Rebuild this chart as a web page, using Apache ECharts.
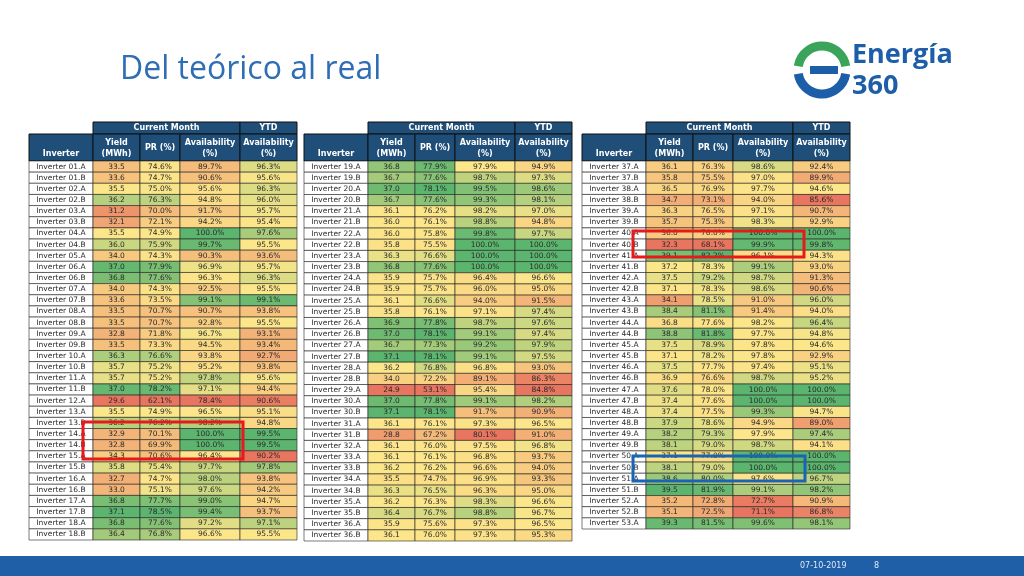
<!DOCTYPE html>
<html><head><meta charset="utf-8">
<script src="https://cdn.jsdelivr.net/npm/echarts@6/dist/echarts.min.js"></script>
<style>html,body{margin:0;padding:0;background:#fff}#c{width:1024px;height:576px}</style>
</head><body><div id="c"></div>
<script>
// table 1: Inverter 01.A .. 18.B
const names1 = ['01.A','01.B','02.A','02.B','03.A','03.B','04.A','04.B','05.A','06.A','06.B','07.A','07.B','08.A','08.B','09.A','09.B','10.A','10.B','11.A','11.B','12.A','13.A','13.B','14.A','14.B','15.A','15.B','16.A','16.B','17.A','17.B','18.A','18.B'];
const yield1 = [33.5,33.6,35.5,36.2,31.2,32.1,35.5,36.0,34.0,37.0,36.8,34.0,33.6,33.5,33.5,32.8,33.5,36.3,35.7,35.7,37.0,29.6,35.5,36.2,32.9,32.8,34.3,35.8,32.7,33.0,36.8,37.1,36.8,36.4];
const pr1 = [74.6,74.7,75.0,76.3,70.0,72.1,74.9,75.9,74.3,77.9,77.6,74.3,73.5,70.7,70.7,71.8,73.3,76.6,75.2,75.2,78.2,62.1,74.9,76.2,70.1,69.9,70.6,75.4,74.7,75.1,77.7,78.5,77.6,76.8];
const avail1 = [89.7,90.6,95.6,94.8,91.7,94.2,100.0,99.7,90.3,96.9,96.3,92.5,99.1,90.7,92.8,96.7,94.5,93.8,95.2,97.8,97.1,78.4,96.5,98.2,100.0,100.0,96.4,97.7,98.0,97.6,99.0,99.4,97.2,96.6];
const ytd1 = [96.3,95.6,96.3,96.0,95.7,95.4,97.6,95.5,93.6,95.7,96.3,95.5,99.1,93.8,95.5,93.1,93.4,92.7,93.8,95.6,94.4,90.6,95.1,94.8,99.5,99.5,90.2,97.8,93.8,94.2,94.7,93.7,97.1,95.5];
// table 2: Inverter 19.A .. 36.B
const names2 = ['19.A','19.B','20.A','20.B','21.A','21.B','22.A','22.B','23.A','23.B','24.A','24.B','25.A','25.B','26.A','26.B','27.A','27.B','28.A','28.B','29.A','30.A','30.B','31.A','31.B','32.A','33.A','33.B','34.A','34.B','35.A','35.B','36.A','36.B'];
const yield2 = [36.8,36.7,37.0,36.7,36.1,36.0,36.0,35.8,36.3,36.8,35.9,35.9,36.1,35.8,36.9,37.0,36.7,37.1,36.2,34.0,24.9,37.0,37.1,36.1,28.8,36.1,36.1,36.2,35.5,36.3,36.2,36.4,35.9,36.1];
const pr2 = [77.9,77.6,78.1,77.6,76.2,76.1,75.8,75.5,76.6,77.6,75.7,75.7,76.6,76.1,77.8,78.1,77.3,78.1,76.8,72.2,53.1,77.8,78.1,76.1,67.2,76.0,76.1,76.2,74.7,76.5,76.3,76.7,75.6,76.0];
const avail2 = [97.9,98.7,99.5,99.3,98.2,98.8,99.8,100.0,100.0,100.0,96.4,96.0,94.0,97.1,98.7,99.1,99.2,99.1,96.8,89.1,95.4,99.1,91.7,97.3,80.1,97.5,96.8,96.6,96.9,96.3,98.3,98.8,97.3,97.3];
const ytd2 = [94.9,97.3,98.6,98.1,97.0,94.8,97.7,100.0,100.0,100.0,96.6,95.0,91.5,97.4,97.6,97.4,97.9,97.5,93.0,86.3,84.8,98.2,90.9,96.5,91.0,96.8,93.7,94.0,93.3,95.0,96.6,96.7,96.5,95.3];
// table 3: Inverter 37.A .. 53.A
const names3 = ['37.A','37.B','38.A','38.B','39.A','39.B','40.A','40.B','41.A','41.B','42.A','42.B','43.A','43.B','44.A','44.B','45.A','45.B','46.A','46.B','47.A','47.B','48.A','48.B','49.A','49.B','50.A','50.B','51.A','51.B','52.A','52.B','53.A'];
const yield3 = [36.1,35.8,36.5,34.7,36.3,35.7,36.0,32.3,39.1,37.2,37.5,37.1,34.1,38.4,36.8,38.8,37.5,37.1,37.5,36.9,37.6,37.4,37.4,37.9,38.2,38.1,37.1,38.1,38.6,39.5,35.2,35.1,39.3];
const pr3 = [76.3,75.5,76.9,73.1,76.5,75.3,76.0,68.1,82.2,78.3,79.2,78.3,78.5,81.1,77.6,81.8,78.9,78.2,77.7,76.6,78.0,77.6,77.5,78.6,79.3,79.0,77.0,79.0,80.0,81.9,72.8,72.5,81.5];
const avail3 = [98.6,97.0,97.7,94.0,97.1,98.3,100.0,99.9,96.1,99.1,98.7,98.6,91.0,91.4,98.2,97.7,97.8,97.8,97.4,98.7,100.0,100.0,99.3,94.9,97.9,98.7,100.0,100.0,97.6,99.1,72.7,71.1,99.6];
const ytd3 = [92.4,89.9,94.6,85.6,90.7,92.9,100.0,99.8,94.3,93.0,91.3,90.6,96.0,94.0,96.4,94.8,94.6,92.9,95.1,95.2,100.0,100.0,94.7,89.0,97.4,94.1,100.0,100.0,96.7,98.2,90.9,86.8,98.1];

const headTop = ['Current Month','YTD'];
const headCols = ['Inverter','Yield\n(MWh)','PR (%)','Availability\n(%)','Availability\n(%)'];

const colW = [64,47,40,60,57];
const colEdges = [0];
colW.forEach(w => colEdges.push(colEdges[colEdges.length-1]+w));
const tables = [
  {names:names1, cols:[yield1,pr1,avail1,ytd1], left:29, bottom:576-540},
  {names:names2, cols:[yield2,pr2,avail2,ytd2], left:304, bottom:576-541},
  {names:names3, cols:[yield3,pr3,avail3,ytd3], left:582, bottom:576-529}
];
const bodyTop = 161;

// 3-colour scale per column, per table (min / median / max)
const RED=[232,117,96], YEL=[252,230,138], GRN=[92,181,110];
function rangeOf(arr){
  const s = arr.slice().sort((a,b)=>a-b);
  return [s[0], s[Math.floor(s.length/2)], s[s.length-1]];
}
function mix(a,b,t){return 'rgb('+a.map((v,i)=>Math.round(v+(b[i]-v)*t)).join(',')+')';}
function colour(rg,v){
  const [lo,mid,hi] = rg;
  if (v <= mid) return mix(RED,YEL,mid>lo ? Math.max(0,(v-lo)/(mid-lo)) : 1);
  return mix(YEL,GRN,Math.min(1,(v-mid)/(hi-mid)));
}

const grids=[],xAxes=[],yAxes=[],series=[],graphics=[];
tables.forEach((t,ti) => {
  const ranges = t.cols.map(rangeOf);
  grids.push({left:t.left, width:colEdges[5], top:bodyTop, bottom:t.bottom});
  xAxes.push({gridIndex:ti, type:'value', min:0, max:colEdges[5], show:false});
  yAxes.push({gridIndex:ti, type:'category', inverse:true, data:t.names, show:false});
  const data = [];
  t.names.forEach((n,r) => {
    data.push([0,r,'Inverter '+n,'#fff']);
    t.cols.forEach((arr,c) => {
      const v = arr[r];
      data.push([c+1,r, c===0 ? v.toFixed(1) : v.toFixed(1)+'%', colour(ranges[c],v)]);
    });
  });
  series.push({
    type:'custom', xAxisIndex:ti, yAxisIndex:ti, data:data,
    renderItem:(params,api) => {
      const c = api.value(0), r = api.value(1);
      const p0 = api.coord([colEdges[c], r]);
      const p1 = api.coord([colEdges[c+1], r]);
      const h = api.size([0,1])[1];
      const d = data[params.dataIndex];
      return {type:'group', children:[
        {type:'rect', shape:{x:p0[0], y:p0[1]-h/2, width:p1[0]-p0[0], height:h},
         style:{fill:d[3], stroke:'#222', lineWidth:0.6}},
        {type:'text', style:{text:d[2], x:(p0[0]+p1[0])/2, y:p0[1], align:'center', verticalAlign:'middle',
          fill:'#2a2a2a', font:'7.5px "DejaVu Sans"'}}
      ]};
    }
  });
  // header
  const L=t.left, navy='#1f4e79';
  graphics.push({type:'rect', shape:{x:L+colEdges[1], y:122, width:colEdges[4]-colEdges[1], height:12}, style:{fill:navy, stroke:'#111', lineWidth:1}});
  graphics.push({type:'rect', shape:{x:L+colEdges[4], y:122, width:colEdges[5]-colEdges[4], height:12}, style:{fill:navy, stroke:'#111', lineWidth:1}});
  graphics.push({type:'text', style:{text:headTop[0], x:L+(colEdges[1]+colEdges[4])/2, y:128, align:'center', verticalAlign:'middle', fill:'#fff', font:'bold 8px "DejaVu Sans"'}});
  graphics.push({type:'text', style:{text:headTop[1], x:L+(colEdges[4]+colEdges[5])/2, y:128, align:'center', verticalAlign:'middle', fill:'#fff', font:'bold 8px "DejaVu Sans"'}});
  headCols.forEach((h,c) => {
    graphics.push({type:'rect', shape:{x:L+colEdges[c], y:134, width:colW[c], height:27}, style:{fill:navy, stroke:'#111', lineWidth:1}});
    graphics.push({type:'text', style:{text:h, x:L+colEdges[c]+colW[c]/2, y:c===0?154:148, align:'center', verticalAlign:'middle', fill:'#fff', font:'bold 8px "DejaVu Sans"', lineHeight:11}});
  });
});

// title, logo, footer, annotation boxes
graphics.push({type:'text', style:{text:'Del teórico al real', x:120, y:70, verticalAlign:'middle', fill:'#2f6db5', font:'32px "Open Sans"'}});
graphics.push({type:'arc', shape:{cx:822, cy:70, r:24, startAngle:Math.PI*1.05, endAngle:Math.PI*1.95}, style:{stroke:'#3aa55a', lineWidth:9, fill:null}});
graphics.push({type:'arc', shape:{cx:822, cy:70, r:24, startAngle:Math.PI*0.05, endAngle:Math.PI*0.95}, style:{stroke:'#1d5ea8', lineWidth:9, fill:null}});
graphics.push({type:'rect', shape:{x:810, y:66, width:28, height:8}, style:{fill:'#1d5ea8'}});
graphics.push({type:'text', style:{text:'Energía', x:852, y:55, verticalAlign:'middle', fill:'#1d5ea8', font:'bold 27px "Open Sans"'}});
graphics.push({type:'text', style:{text:'360', x:852, y:86, verticalAlign:'middle', fill:'#1d5ea8', font:'bold 27px "Open Sans"'}});
graphics.push({type:'rect', shape:{x:0, y:556, width:1024, height:20}, style:{fill:'#1f5fa8'}});
graphics.push({type:'text', style:{text:'07-10-2019', x:800, y:566, verticalAlign:'middle', fill:'#dfe8f5', font:'8px "DejaVu Sans"'}});
graphics.push({type:'text', style:{text:'8', x:874, y:566, verticalAlign:'middle', fill:'#dfe8f5', font:'8px "DejaVu Sans"'}});
graphics.push({type:'rect', z:100, shape:{x:83, y:422, width:160, height:37}, style:{fill:null, stroke:'#e8191a', lineWidth:3}});
graphics.push({type:'rect', z:100, shape:{x:633, y:231, width:171, height:26}, style:{fill:null, stroke:'#e8191a', lineWidth:3}});
graphics.push({type:'rect', z:100, shape:{x:633, y:456, width:172, height:25}, style:{fill:null, stroke:'#1a64b4', lineWidth:3}});

const chart = echarts.init(document.getElementById('c'));
chart.setOption({animation:false, grid:grids, xAxis:xAxes, yAxis:yAxes, series:series, graphic:graphics});
</script></body></html>
